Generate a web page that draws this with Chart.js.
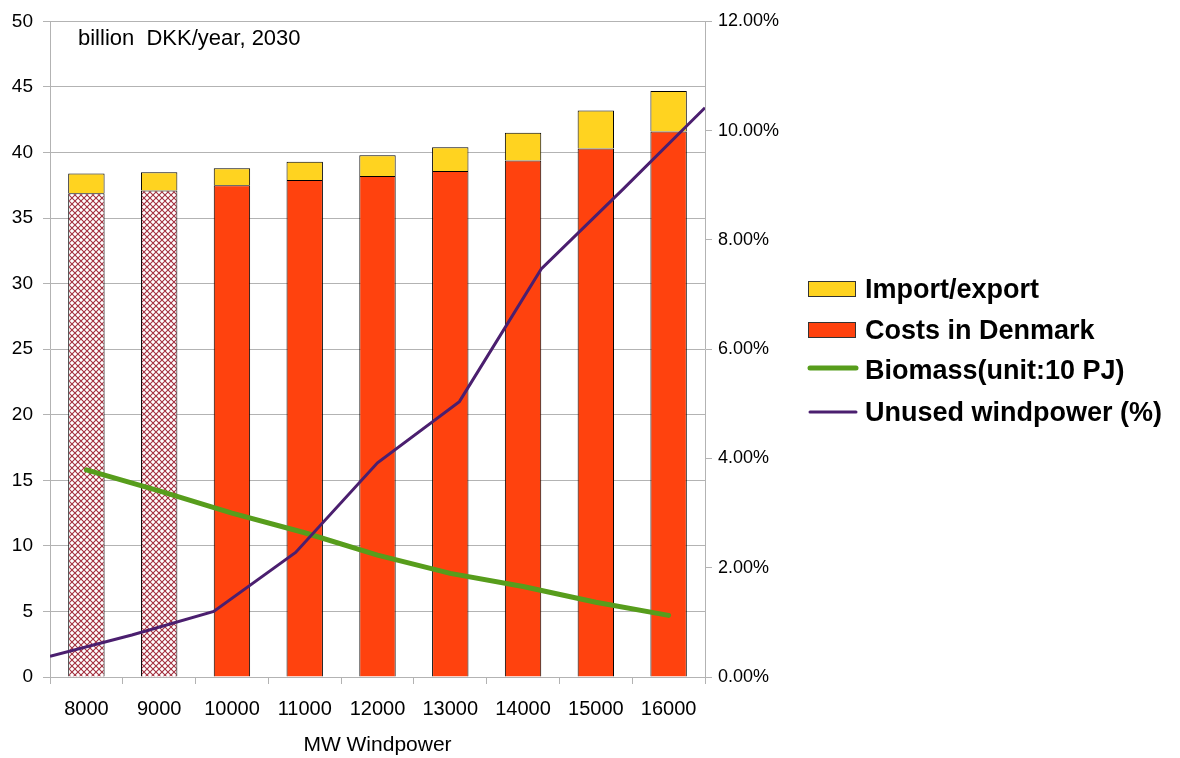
<!DOCTYPE html>
<html>
<head>
<meta charset="utf-8">
<script src="https://cdn.jsdelivr.net/npm/chart.js@4.4.0/dist/chart.umd.min.js"></script>
<style>
  body { margin: 0; background: #fff; }
  #wrap { width: 1180px; height: 758px; }
</style>
</head>
<body>
<div id="wrap"><canvas id="myChart" width="1180" height="758"></canvas></div>
<script>
// values
var windMW = [8000, 9000, 10000, 11000, 12000, 13000, 14000, 15000, 16000];
var costsDenmark = [36.9, 37.1, 37.5, 37.9, 38.2, 38.6, 39.4, 40.3, 41.6];
var importExport = [1.5, 1.4, 1.3, 1.4, 1.6, 1.8, 2.1, 2.9, 3.1];
var biomass = [15.8, 14.2, 12.5, 11.0, 9.3, 7.9, 6.9, 5.7, 4.7];
var unusedWind = [0.38, 0.77, 1.20, 2.28, 3.92, 5.04, 7.47, 8.93, 10.42];
var leftTicks = [0, 50, 5];
var rightTicks = [0, 12, 2];

var RED = '#ff420e', YELLOW = '#ffd320', GREEN = '#579d1c', PURPLE = '#4b1f6f';
var FONT = '"Liberation Sans", Arial, sans-serif';

function hatch() {
    var c = document.createElement('canvas');
    c.width = 6; c.height = 6;
    var g = c.getContext('2d');
    g.fillStyle = '#fff';
    g.fillRect(0, 0, 6, 6);
    g.strokeStyle = '#a3303f';
    g.lineWidth = 1.1;
    g.beginPath();
    g.moveTo(0, 0); g.lineTo(6, 6);
    g.moveTo(6, 0); g.lineTo(0, 6);
    g.stroke();
    return g.createPattern(c, 'repeat');
}

var ctx = document.getElementById('myChart').getContext('2d');
var pat = hatch();
var costColors = windMW.map(function (v, i) { return i < 2 ? pat : RED; });

// title inside the plot + the legend on the right
var extras = {
    id: 'extras',
    afterDraw: function (chart) {
        var c = chart.ctx;
        c.save();
        c.fillStyle = '#000';
        c.font = '22px ' + FONT;
        c.textAlign = 'left';
        c.textBaseline = 'alphabetic';
        c.fillText('billion  DKK/year, 2030', 78, 45);

        var rows = [
            { ds: 1, y: 289, kind: 'box' },
            { ds: 0, y: 330, kind: 'box' },
            { ds: 2, y: 368, kind: 'line', w: 5 },
            { ds: 3, y: 412, kind: 'line', w: 3 }
        ];
        c.font = 'bold 27px ' + FONT;
        c.textBaseline = 'middle';
        rows.forEach(function (r) {
            var d = chart.data.datasets[r.ds];
            if (r.kind === 'box') {
                c.fillStyle = r.ds === 0 ? RED : YELLOW;
                c.fillRect(808, r.y - 8, 48, 16);
                c.strokeStyle = '#333';
                c.lineWidth = 1;
                c.strokeRect(808.5, r.y - 7.5, 47, 15);
            } else {
                c.strokeStyle = d.borderColor;
                c.lineWidth = r.w;
                c.lineCap = 'round';
                c.beginPath();
                c.moveTo(810, r.y);
                c.lineTo(856, r.y);
                c.stroke();
            }
            c.fillStyle = '#000';
            c.fillText(d.label, 865, r.ds === 2 ? r.y + 4 : r.y + 2);
        });
        c.restore();
    }
};

var myChart = new Chart(ctx, {
    type: 'bar',
    data: {
        labels: windMW.map(String),
        datasets: [{
            label: 'Costs in Denmark',
            data: costsDenmark,
            backgroundColor: costColors,
            borderColor: '#000',
            borderWidth: 1,
            grouped: false,
            barPercentage: 0.5,
            categoryPercentage: 1,
            order: 2
        }, {
            label: 'Import/export',
            data: importExport,
            backgroundColor: YELLOW,
            borderColor: '#000',
            borderWidth: 1,
            grouped: false,
            barPercentage: 0.5,
            categoryPercentage: 1,
            order: 2
        }, {
            type: 'line',
            label: 'Biomass(unit:10 PJ)',
            data: biomass,
            borderColor: GREEN,
            borderWidth: 5,
            borderCapStyle: 'round',
            pointRadius: 0,
            stack: 'bio',
            order: 1
        }, {
            type: 'line',
            label: 'Unused windpower (%)',
            data: windMW.map(function (m, i) { return { x: m, y: unusedWind[i] }; }),
            xAxisID: 'x2',
            yAxisID: 'y1',
            borderColor: PURPLE,
            borderWidth: 3,
            pointRadius: 0,
            order: 0
        }]
    },
    options: {
        responsive: false,
        animation: false,
        layout: { padding: { top: 18, left: 0, right: 0, bottom: 0 } },
        plugins: {
            legend: { display: false },
            tooltip: { enabled: false }
        },
        scales: {
            x: {
                type: 'category',
                stacked: true,
                offset: true,
                grid: { offset: true, drawOnChartArea: false, tickLength: 7, color: '#b3b3b3' },
                border: { color: '#b3b3b3' },
                ticks: { color: '#000', font: { family: FONT, size: 20 }, padding: 13, maxRotation: 0, autoSkip: false },
                title: { display: true, text: 'MW Windpower', color: '#000', font: { family: FONT, size: 21 }, padding: { top: 4, bottom: 0 } },
                afterFit: function (s) { s.height = 81; }
            },
            x2: {
                type: 'linear',
                display: false,
                offset: false,
                min: windMW[0],
                max: windMW[windMW.length - 1]
            },
            y: {
                stacked: true,
                position: 'left',
                min: leftTicks[0],
                max: leftTicks[1],
                ticks: { stepSize: leftTicks[2], color: '#000', font: { family: FONT, size: 19 }, padding: 10 },
                grid: { color: '#b3b3b3', tickLength: 7 },
                border: { color: '#b3b3b3' },
                afterFit: function (s) { s.width = 50; }
            },
            y1: {
                position: 'right',
                min: rightTicks[0],
                max: rightTicks[1],
                ticks: {
                    stepSize: rightTicks[2],
                    color: '#000',
                    font: { family: FONT, size: 18 },
                    padding: 6,
                    callback: function (v) { return v.toFixed(2) + '%'; }
                },
                grid: { drawOnChartArea: false, color: '#b3b3b3', tickLength: 7 },
                border: { color: '#b3b3b3' },
                afterFit: function (s) { s.width = 475; }
            }
        }
    },
    plugins: [extras]
});
</script>
</body>
</html>
